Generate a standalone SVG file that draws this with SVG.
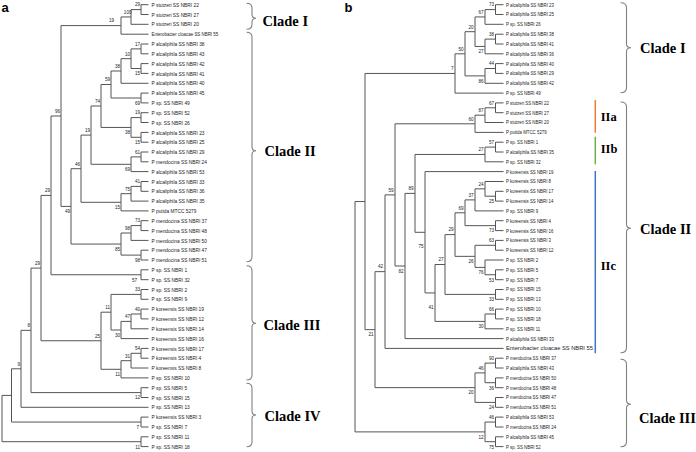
<svg xmlns="http://www.w3.org/2000/svg" width="696" height="452" viewBox="0 0 696 452">
<style>
.br{fill:none;stroke:#555;stroke-width:1}
.lf{font-family:"Liberation Sans",Arial,sans-serif;font-size:6.2px;fill:#1a1a1a}
.rf{font-family:"Liberation Sans",Arial,sans-serif;font-size:5.6px;fill:#1a1a1a}
.bs{font-family:"Liberation Sans",Arial,sans-serif;font-size:4.6px;fill:#222;text-anchor:end}
.cl{font-family:"Liberation Serif","Times New Roman",serif;font-weight:bold;font-size:14.5px;fill:#000}
.sc{font-family:"Liberation Serif","Times New Roman",serif;font-weight:bold;font-size:12.5px;fill:#000}
.bk{fill:none;stroke:#808080;stroke-width:1.1}
.pl{font-family:"Liberation Sans",Arial,sans-serif;font-weight:bold;font-size:13px;fill:#000}
</style>
<rect width="696" height="452" fill="#fff"/>
<text class="pl" x="1.5" y="12">a</text>
<text class="pl" x="344.5" y="12">b</text>

<g id="tree-a-connectors" class="br">
<path d="M148.5 4.7H141V14.5H148.5"/>
<path d="M141 9.6H131V24.3H148.5"/>
<path d="M131 16.95H121V34.2H148.5"/>
<path d="M148.5 44H141V53.8H148.5"/>
<path d="M148.5 63.6H141V73.4H148.5"/>
<path d="M141 48.9H131V68.5H141"/>
<path d="M131 58.7H121V83.3H148.5"/>
<path d="M148.5 93.1H141V102.9H148.5"/>
<path d="M121 71H111V98H141"/>
<path d="M148.5 112.7H141V122.5H148.5"/>
<path d="M148.5 132.4H141V142.2H148.5"/>
<path d="M141 117.6H131V137.3H141"/>
<path d="M111 84.5H101V127.45H131"/>
<path d="M148.5 152H141V161.8H148.5"/>
<path d="M141 156.9H131V171.6H148.5"/>
<path d="M101 106H91V164.3H131"/>
<path d="M148.5 181.5H141V191.3H148.5"/>
<path d="M141 186.4H131V201.1H148.5"/>
<path d="M131 193.7H121V210.9H148.5"/>
<path d="M91 135.1H81V202.3H121"/>
<path d="M148.5 220.7H141V230.6H148.5"/>
<path d="M141 225.6H131V240.4H148.5"/>
<path d="M148.5 250.2H141V260H148.5"/>
<path d="M131 233H121V255.1H141"/>
<path d="M81 168.7H71V244.05H121"/>
<path d="M121 25.6H61V206.4H71"/>
<path d="M148.5 269.8H141V279.7H148.5"/>
<path d="M61 116H51V274.75H141"/>
<path d="M148.5 289.5H141V299.3H148.5"/>
<path d="M148.5 309.1H141V318.9H148.5"/>
<path d="M141 314H131V328.8H148.5"/>
<path d="M131 321.4H121V338.6H148.5"/>
<path d="M141 294.4H111V330H121"/>
<path d="M148.5 348.4H141V358.2H148.5"/>
<path d="M141 353.3H131V368H148.5"/>
<path d="M131 360.7H121V377.9H148.5"/>
<path d="M111 312.2H101V369.3H121"/>
<path d="M51 195.4H41V340.75H101"/>
<path d="M148.5 387.7H141V397.5H148.5"/>
<path d="M41 268.1H31V392.6H141"/>
<path d="M31 330.35H21V407.3H148.5"/>
<path d="M148.5 417.1H141V427H148.5"/>
<path d="M21 368.8H11.5V422.05H141"/>
<path d="M148.5 436.8H141V446.6H148.5"/>
<path d="M11.5 395.4H2V441.7H141"/>
</g>

<g id="tree-a-bootstrap">
<text class="bs" x="140" y="6.4">29</text>
<text class="bs" x="131.5" y="13.75">100</text>
<text class="bs" x="114" y="22.4">19</text>
<text class="bs" x="140" y="45.7">17</text>
<text class="bs" x="140" y="75.3">15</text>
<text class="bs" x="130" y="55.5">10</text>
<text class="bs" x="120" y="67.8">38</text>
<text class="bs" x="140" y="104.8">69</text>
<text class="bs" x="110" y="81.3">59</text>
<text class="bs" x="140" y="114.4">19</text>
<text class="bs" x="140" y="144.1">15</text>
<text class="bs" x="130" y="134.25">38</text>
<text class="bs" x="100" y="102.8">74</text>
<text class="bs" x="140" y="153.7">61</text>
<text class="bs" x="130" y="171.1">69</text>
<text class="bs" x="90" y="131.9">19</text>
<text class="bs" x="140" y="183.2">41</text>
<text class="bs" x="130" y="190.5">75</text>
<text class="bs" x="120" y="209.1">15</text>
<text class="bs" x="80" y="165.5">46</text>
<text class="bs" x="140" y="222.4">73</text>
<text class="bs" x="130" y="229.8">98</text>
<text class="bs" x="140" y="261.9">98</text>
<text class="bs" x="120" y="250.85">85</text>
<text class="bs" x="70" y="213.2">49</text>
<text class="bs" x="60" y="112.8">96</text>
<text class="bs" x="137" y="281.55">57</text>
<text class="bs" x="50" y="192.2">29</text>
<text class="bs" x="140" y="291.2">33</text>
<text class="bs" x="140" y="310.8">40</text>
<text class="bs" x="130" y="318.2">47</text>
<text class="bs" x="120" y="336.8">30</text>
<text class="bs" x="110" y="309">11</text>
<text class="bs" x="140" y="350.1">54</text>
<text class="bs" x="130" y="357.5">31</text>
<text class="bs" x="120" y="376.1">11</text>
<text class="bs" x="100" y="337.55">25</text>
<text class="bs" x="40" y="264.9">29</text>
<text class="bs" x="140" y="399.4">12</text>
<text class="bs" x="30" y="327.15">8</text>
<text class="bs" x="20" y="365.6">9</text>
<text class="bs" x="139" y="428.85">7</text>
<text class="bs" x="140" y="448.5">11</text>
</g>

<g id="tree-a-leaves" class="lf" transform="translate(151.5 0) scale(0.78 1)">
<text x="0" y="6.9">P stutzeri SS NBRI 22</text>
<text x="0" y="16.7">P stutzeri SS NBRI 27</text>
<text x="0" y="26.5">P stutzeri SS NBRI 20</text>
<text x="0" y="36.4" textLength="85.5" lengthAdjust="spacingAndGlyphs">Enterobacter cloacae SS NBRI 55</text>
<text x="0" y="46.2">P alcaliphila SS NBRI 38</text>
<text x="0" y="56">P alcaliphila SS NBRI 43</text>
<text x="0" y="65.8">P alcaliphila SS NBRI 42</text>
<text x="0" y="75.6">P alcaliphila SS NBRI 41</text>
<text x="0" y="85.5">P alcaliphila SS NBRI 40</text>
<text x="0" y="95.3">P alcaliphila SS NBRI 45</text>
<text x="0" y="105.1">P sp. SS NBRI 49</text>
<text x="0" y="114.9">P sp. SS NBRI 52</text>
<text x="0" y="124.7">P sp. SS NBRI 26</text>
<text x="0" y="134.6">P alcaliphila SS NBRI 23</text>
<text x="0" y="144.4">P alcaliphila SS NBRI 25</text>
<text x="0" y="154.2">P alcaliphila SS NBRI 29</text>
<text x="0" y="164">P mendocina SS NBRI 24</text>
<text x="0" y="173.8">P alcaliphila SS NBRI 53</text>
<text x="0" y="183.7">P alcaliphila SS NBRI 33</text>
<text x="0" y="193.5">P alcaliphila SS NBRI 36</text>
<text x="0" y="203.3">P alcaliphila SS NBRI 35</text>
<text x="0" y="213.1">P putida MTCC 5279</text>
<text x="0" y="222.9">P mendocina SS NBRI 37</text>
<text x="0" y="232.8">P mendocina SS NBRI 48</text>
<text x="0" y="242.6">P mendocina SS NBRI 50</text>
<text x="0" y="252.4">P mendocina SS NBRI 47</text>
<text x="0" y="262.2">P mendocina SS NBRI 51</text>
<text x="0" y="272">P sp. SS NBRI 1</text>
<text x="0" y="281.9">P sp. SS NBRI 32</text>
<text x="0" y="291.7">P sp. SS NBRI 2</text>
<text x="0" y="301.5">P sp. SS NBRI 9</text>
<text x="0" y="311.3">P koreensis SS NBRI 19</text>
<text x="0" y="321.1">P koreensis SS NBRI 12</text>
<text x="0" y="331">P koreensis SS NBRI 14</text>
<text x="0" y="340.8">P koreensis SS NBRI 16</text>
<text x="0" y="350.6">P koreensis SS NBRI 17</text>
<text x="0" y="360.4">P koreensis SS NBRI 4</text>
<text x="0" y="370.2">P koreensis SS NBRI 8</text>
<text x="0" y="380.1">P sp. SS NBRI 10</text>
<text x="0" y="389.9">P sp. SS NBRI 5</text>
<text x="0" y="399.7">P sp. SS NBRI 15</text>
<text x="0" y="409.5">P sp. SS NBRI 13</text>
<text x="0" y="419.3">P koreensis SS NBRI 3</text>
<text x="0" y="429.2">P sp. SS NBRI 7</text>
<text x="0" y="439">P sp. SS NBRI 11</text>
<text x="0" y="448.8">P sp. SS NBRI 18</text>
</g>

<g id="tree-a-clades">
<path class="bk" d="M246.5 3.3Q252 3.3 252 8.3V14.3Q252 18.3 256 18.3Q252 18.3 252 22.3V24.3Q252 29.3 246.5 29.3"/>
<text class="cl" x="262.5" y="26">Clade I</text>
<path class="bk" d="M246.5 32.3Q252 32.3 252 37.3V146.7Q252 150.7 256 150.7Q252 150.7 252 154.7V256.7Q252 261.7 246.5 261.7"/>
<text class="cl" x="264.5" y="156">Clade II</text>
<path class="bk" d="M246.5 265.7Q252 265.7 252 270.7V319.3Q252 323.3 256 323.3Q252 323.3 252 327.3V375Q252 380 246.5 380"/>
<text class="cl" x="263.5" y="329.5">Clade III</text>
<path class="bk" d="M246.5 383.3Q252 383.3 252 388.3V411Q252 415 256 415Q252 415 252 419V441.7Q252 446.7 246.5 446.7"/>
<text class="cl" x="264.5" y="421">Clade IV</text>
</g>

<g id="tree-b-connectors" class="br">
<path d="M503.5 4.7H495.5V14.5H503.5"/>
<path d="M495.5 9.6H485V24.3H503.5"/>
<path d="M503.5 34.2H495.5V44H503.5"/>
<path d="M495.5 39.1H485V53.8H503.5"/>
<path d="M485 16.95H475V46.45H485"/>
<path d="M503.5 63.6H495.5V73.4H503.5"/>
<path d="M495.5 68.5H485V83.3H503.5"/>
<path d="M475 31.7H465V75.9H485"/>
<path d="M465 53.8H455V93.1H503.5"/>
<path d="M503.5 102.9H495.5V112.7H503.5"/>
<path d="M495.5 107.8H485V122.5H503.5"/>
<path d="M485 115.2H475V132.4H503.5"/>
<path d="M503.5 142.2H495.5V152H503.5"/>
<path d="M495.5 147.1H485V161.8H503.5"/>
<path d="M503.5 191.3H495.5V201.1H503.5"/>
<path d="M503.5 181.5H485V196.2H495.5"/>
<path d="M485 188.85H475V210.9H503.5"/>
<path d="M503.5 220.7H495.5V230.6H503.5"/>
<path d="M475 199.9H465V225.65H495.5"/>
<path d="M503.5 240.4H495.5V250.2H503.5"/>
<path d="M503.5 269.8H495.5V279.7H503.5"/>
<path d="M503.5 260H485V274.75H495.5"/>
<path d="M495.5 245.3H475V267.4H485"/>
<path d="M465 212.8H455V256.35H475"/>
<path d="M503.5 289.5H495.5V299.3H503.5"/>
<path d="M455 234.6H445V294.4H495.5"/>
<path d="M503.5 309.1H495.5V318.9H503.5"/>
<path d="M495.5 314H485V328.8H503.5"/>
<path d="M445 264.5H435V321.4H485"/>
<path d="M503.5 171.6H425V292.95H435"/>
<path d="M485 154.45H415V232.3H425"/>
<path d="M415 193.4H405V338.6H503.5"/>
<path d="M475 123.8H395V266H405"/>
<path d="M395 194.9H385V348.4H503.5"/>
<path d="M503.5 358.2H495.5V368H503.5"/>
<path d="M503.5 377.9H495.5V387.7H503.5"/>
<path d="M495.5 363.1H485V382.7H495.5"/>
<path d="M503.5 397.5H495.5V407.3H503.5"/>
<path d="M485 372.9H475V402.4H495.5"/>
<path d="M385 271.65H375V387.65H475"/>
<path d="M455 73.45H365V329.65H375"/>
<path d="M503.5 417.1H495.5V427H503.5"/>
<path d="M503.5 436.8H495.5V446.6H503.5"/>
<path d="M495.5 422.05H485V441.7H495.5"/>
<path d="M365 201.55H355V431.9H485"/>
</g>

<g id="tree-b-bootstrap">
<text class="bs" x="494" y="6.4">73</text>
<text class="bs" x="483.5" y="13.75">67</text>
<text class="bs" x="494" y="35.9">38</text>
<text class="bs" x="483.5" y="53.25">27</text>
<text class="bs" x="473.5" y="28.5">20</text>
<text class="bs" x="494" y="65.3">44</text>
<text class="bs" x="483.5" y="82.7">86</text>
<text class="bs" x="463.5" y="50.6">50</text>
<text class="bs" x="453.5" y="70.25">7</text>
<text class="bs" x="494" y="104.6">67</text>
<text class="bs" x="483.5" y="112">87</text>
<text class="bs" x="473.5" y="120.6">60</text>
<text class="bs" x="494" y="143.9">57</text>
<text class="bs" x="483.5" y="151.25">27</text>
<text class="bs" x="494" y="203">25</text>
<text class="bs" x="483.5" y="185.65">24</text>
<text class="bs" x="473.5" y="196.7">37</text>
<text class="bs" x="494" y="232.45">73</text>
<text class="bs" x="463.5" y="209.6">69</text>
<text class="bs" x="494" y="242.1">63</text>
<text class="bs" x="494" y="281.55">53</text>
<text class="bs" x="483.5" y="274.2">76</text>
<text class="bs" x="473.5" y="263.15">26</text>
<text class="bs" x="453.5" y="231.4">29</text>
<text class="bs" x="494" y="301.2">33</text>
<text class="bs" x="443.5" y="261.3">27</text>
<text class="bs" x="494" y="310.8">66</text>
<text class="bs" x="483.5" y="328.2">30</text>
<text class="bs" x="433.5" y="309">41</text>
<text class="bs" x="423.5" y="248.3">75</text>
<text class="bs" x="413.5" y="190.2">89</text>
<text class="bs" x="403.5" y="272.8">82</text>
<text class="bs" x="393.5" y="191.7">59</text>
<text class="bs" x="383" y="268.45">42</text>
<text class="bs" x="494" y="359.9">90</text>
<text class="bs" x="494" y="389.5">36</text>
<text class="bs" x="483.5" y="369.7">46</text>
<text class="bs" x="494" y="409.2">24</text>
<text class="bs" x="473.5" y="394.45">20</text>
<text class="bs" x="373.5" y="336.45">21</text>
<text class="bs" x="494" y="418.85">46</text>
<text class="bs" x="494" y="448.5">75</text>
<text class="bs" x="483.5" y="438.7">12</text>
</g>

<g id="tree-b-leaves" class="rf" transform="translate(506 0) scale(0.78 1)">
<text x="0" y="6.7">P alcaliphila SS NBRI 23</text>
<text x="0" y="16.5">P alcaliphila SS NBRI 25</text>
<text x="0" y="26.3">P sp. SS NBRI 26</text>
<text x="0" y="36.2">P alcaliphila SS NBRI 38</text>
<text x="0" y="46">P alcaliphila SS NBRI 41</text>
<text x="0" y="55.8">P alcaliphila SS NBRI 36</text>
<text x="0" y="65.6">P alcaliphila SS NBRI 40</text>
<text x="0" y="75.4">P alcaliphila SS NBRI 29</text>
<text x="0" y="85.3">P alcaliphila SS NBRI 42</text>
<text x="0" y="95.1">P sp. SS NBRI 49</text>
<text x="0" y="104.9">P stutzeri SS NBRI 22</text>
<text x="0" y="114.7">P stutzeri SS NBRI 27</text>
<text x="0" y="124.5">P stutzeri SS NBRI 20</text>
<text x="0" y="134.4">P putida MTCC 5279</text>
<text x="0" y="144.2">P sp. SS NBRI 1</text>
<text x="0" y="154">P alcaliphila SS NBRI 35</text>
<text x="0" y="163.8">P sp. SS NBRI 32</text>
<text x="0" y="173.6">P koreensis SS NBRI 19</text>
<text x="0" y="183.5">P koreensis SS NBRI 8</text>
<text x="0" y="193.3">P koreensis SS NBRI 17</text>
<text x="0" y="203.1">P koreensis SS NBRI 14</text>
<text x="0" y="212.9">P sp. SS NBRI 9</text>
<text x="0" y="222.7">P koreensis SS NBRI 4</text>
<text x="0" y="232.6">P koreensis SS NBRI 16</text>
<text x="0" y="242.4">P koreensis SS NBRI 3</text>
<text x="0" y="252.2">P koreensis SS NBRI 12</text>
<text x="0" y="262">P sp. SS NBRI 2</text>
<text x="0" y="271.8">P sp. SS NBRI 5</text>
<text x="0" y="281.7">P sp. SS NBRI 7</text>
<text x="0" y="291.5">P sp. SS NBRI 15</text>
<text x="0" y="301.3">P sp. SS NBRI 13</text>
<text x="0" y="311.1">P sp. SS NBRI 10</text>
<text x="0" y="320.9">P sp. SS NBRI 18</text>
<text x="0" y="330.8">P sp. SS NBRI 11</text>
<text x="0" y="340.6">P alcaliphila SS NBRI 33</text>
<text x="0" y="350.4" textLength="111.5" lengthAdjust="spacingAndGlyphs">Enterobacter cloacae SS NBRI 55</text>
<text x="0" y="360.2">P mendocina SS NBRI 37</text>
<text x="0" y="370">P alcaliphila SS NBRI 43</text>
<text x="0" y="379.9">P mendocina SS NBRI 50</text>
<text x="0" y="389.7">P mendocina SS NBRI 48</text>
<text x="0" y="399.5">P mendocina SS NBRI 47</text>
<text x="0" y="409.3">P mendocina SS NBRI 51</text>
<text x="0" y="419.1">P alcaliphila SS NBRI 53</text>
<text x="0" y="429">P mendocina SS NBRI 24</text>
<text x="0" y="438.8">P alcaliphila SS NBRI 45</text>
<text x="0" y="448.6">P sp. SS NBRI 52</text>
</g>

<g id="tree-b-subclades">
<line x1="595.3" y1="100" x2="595.3" y2="132.7" stroke="#ED7D31" stroke-width="1.5"/>
<text class="sc" x="600.7" y="120.5">IIa</text>
<line x1="595.3" y1="136.7" x2="595.3" y2="164.3" stroke="#70AD47" stroke-width="1.5"/>
<text class="sc" x="600.7" y="153.3">IIb</text>
<line x1="595.3" y1="171" x2="595.3" y2="353.3" stroke="#4472C4" stroke-width="1.5"/>
<text class="sc" x="600.7" y="270">IIc</text>
</g>

<g id="tree-b-clades">
<path class="bk" d="M620.5 2.7Q626.5 2.7 626.5 7.7V43.7Q626.5 47.7 631 47.7Q626.5 47.7 626.5 51.7V87.7Q626.5 92.7 620.5 92.7"/>
<text class="cl" x="640" y="52.5">Clade I</text>
<path class="bk" d="M620.5 102Q626.5 102 626.5 107V224.3Q626.5 228.3 631 228.3Q626.5 228.3 626.5 232.3V347.7Q626.5 352.7 620.5 352.7"/>
<text class="cl" x="640" y="234">Clade II</text>
<path class="bk" d="M620.5 359.3Q626.5 359.3 626.5 364.3V400.3Q626.5 404.3 631 404.3Q626.5 404.3 626.5 408.3V441.7Q626.5 446.7 620.5 446.7"/>
<text class="cl" x="639" y="422.5">Clade III</text>
</g>
</svg>
